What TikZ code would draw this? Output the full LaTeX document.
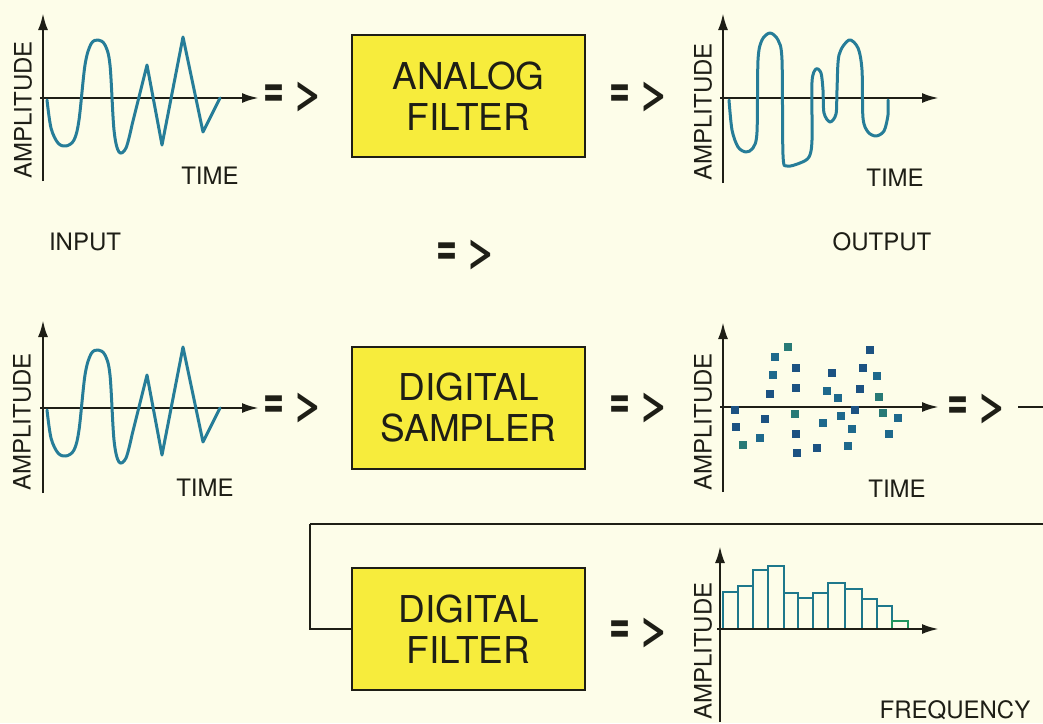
\documentclass[tikz,border=0pt]{standalone}
\usepackage{fontspec}
\usepackage{graphicx}
\setmainfont{TeX Gyre Heros}
\usetikzlibrary{arrows.meta}
\definecolor{bg}{RGB}{253,253,233}
\definecolor{boxy}{RGB}{247,236,60}
\definecolor{ink}{RGB}{30,30,22}
\definecolor{wave}{RGB}{38,125,152}
\definecolor{dotA}{RGB}{30,105,140}
\definecolor{dotB}{RGB}{28,82,130}
\definecolor{dotC}{RGB}{40,122,118}
\definecolor{barc}{RGB}{30,120,140}
\newcommand{\dblarrow}{{\fontsize{40}{40}\selectfont\bfseries\scalebox{0.9}[1.45]{=}\hspace{9pt}\scalebox{1.3}[1.05]{>}}}
\begin{document}
\begin{tikzpicture}[x=1pt,y=-1pt,
  axisline/.style={draw=ink, line width=2.6pt, -{Latex[length=17pt,width=10pt]}},
  wavel/.style={draw=wave, line width=3pt, line join=round, line cap=round},
  lbl/.style={text=ink, font=\fontsize{24}{24}\selectfont, inner sep=0pt},
  amp/.style={lbl, rotate=90},
  blockbox/.style={draw=ink, line width=2.5pt, fill=boxy, minimum width=233pt, minimum height=122pt, align=center, text=ink, font=\fontsize{37}{41}\selectfont, inner sep=0pt},
  flow/.style={text=ink, inner sep=0pt},
  sdot/.style={fill=#1, draw=none, minimum size=7.5pt, inner sep=0pt},
  bar/.style={draw=barc, line width=2pt}
]
\fill[bg] (0,0) rectangle (1043,723);
\useasboundingbox (0,0) rectangle (1043,723);

% ---------- top-left input graph ----------
\draw[axisline] (43,181) -- (43,13);
\draw[axisline] (40,98) -- (259,98);
\node[amp] (ampA) at (23,110) {AMPLITUDE};
\node[lbl] (timeA) at (210,176) {TIME};
\draw[wavel] plot[smooth, tension=0.55] coordinates {(47,100) (51,128) (58,143) (66,146) (74,140) (79,120) (85,65) (91,44) (98,40) (105,45) (110,65) (114,130) (119,152) (126,148) (132,125)} -- (147,65) -- (162,145) -- (183,37) -- (203,132) -- (220,98);

\node[flow] (f1) at (294,97) {\dblarrow};

% ---------- analog filter ----------
\node[blockbox] (analog) at (468.5,96) {ANALOG\\FILTER};
\node[flow] (f2) at (640,97) {\dblarrow};

% ---------- top-right output graph ----------
\draw[axisline] (723,183) -- (723,13);
\draw[axisline] (720,98) -- (939,98);
\node[amp] (ampB) at (703,112) {AMPLITUDE};
\node[lbl] (timeB) at (895,178) {TIME};
\draw[wavel] plot[smooth, tension=0.5] coordinates {(729,100) (732,130) (738,147) (746,152) (753,148) (757,132) (758,60) (762,40) (770,33) (778,40) (782,60) (783,155) (787,166) (800,163) (809,157) (812,140) (812,82) (816,69) (821,73) (823,90) (824,113) (830,122) (836,114) (837,90) (839,55) (849,40) (858,48) (862,70) (863,118) (868,132) (876,136) (884,131) (888,115) (888,100)};

% ---------- middle labels ----------
\node[lbl] (input) at (85,242) {INPUT};
\node[lbl] (output) at (882,242) {OUTPUT};
\node[flow] (f3) at (467,255) {\dblarrow};

% ---------- middle-left input graph ----------
\begin{scope}[shift={(0,310)}]
\draw[axisline] (43,183) -- (43,10);
\draw[axisline] (40,98) -- (259,98);
\node[amp] (ampC) at (22,112) {AMPLITUDE};
\node[lbl] (timeC) at (205,178) {TIME};
\draw[wavel] plot[smooth, tension=0.55] coordinates {(47,100) (51,128) (58,143) (66,146) (74,140) (79,120) (85,65) (91,44) (98,40) (105,45) (110,65) (114,130) (119,152) (126,148) (132,125)} -- (147,65) -- (162,145) -- (183,37) -- (203,132) -- (220,98);
\end{scope}
\node[flow] (f4) at (294,408) {\dblarrow};

% ---------- digital sampler ----------
\node[blockbox] (sampler) at (468.5,408) {DIGITAL\\SAMPLER};
\node[flow] (f5) at (640,408) {\dblarrow};

% ---------- middle-right sampled graph ----------
\draw[axisline] (723,492) -- (723,322);
\draw[axisline] (720,407) -- (939,407);
\node[amp] (ampD) at (703,422) {AMPLITUDE};
\node[lbl] (timeD) at (897,489) {TIME};
\foreach \px/\py/\c in {735/410/dotB, 736/427/dotB, 743/445/dotC, 760/438/dotA, 765/419/dotB,
  770/394/dotB, 773/375/dotA, 775/357/dotA, 788/347/dotC, 796/368/dotB, 796/388/dotB,
  795/414/dotC, 796/434/dotB, 797/453/dotB, 817/448/dotB, 823/423/dotA, 827/391/dotA,
  832/373/dotB, 838/398/dotA, 841/416/dotA, 848/446/dotA, 852/429/dotA, 855/410/dotB,
  860/389/dotB, 863/368/dotB, 870/350/dotB, 877/376/dotA, 879/397/dotC, 883/413/dotC,
  889/434/dotA, 898/418/dotA}
  \node[sdot=\c] at (\px,\py) {};
\node[flow] (f6) at (978,409) {\dblarrow};
\coordinate (tail) at (1018,407);
\coordinate (edge) at (1043,407);
\draw[draw=ink, line width=2.5pt] (tail) -- (edge);

% ---------- feedback line ----------
\coordinate (fbR) at (1043,524);
\coordinate (fbL) at (310,524);
\draw[draw=ink, line width=2.5pt] (fbR) -- (fbL);

% ---------- digital filter ----------
\node[blockbox] (dfilter) at (468.5,629) {DIGITAL\\FILTER};
\draw[draw=ink, line width=2.5pt] (fbL) |- (dfilter.west);
\node[flow] (f7) at (640,633) {\dblarrow};

% ---------- bottom-right spectrum ----------
\foreach \xa/\xb/\yt in {723/738/592, 738/753/586, 753/768/570, 768/784/566, 784/798/593,
  798/813/598, 813/828/593, 828/845/583, 845/862/589, 862/877/599, 877/892/606}
  \draw[bar] (\xa,629) rectangle (\xb,\yt);
\draw[draw=dotC!80!green, line width=2pt] (892,629) rectangle (908,621);
\draw[axisline] (720,722) -- (720,546);
\draw[axisline] (717,629) -- (939,629);
\node[amp] (ampE) at (703,651) {AMPLITUDE};
\node[lbl] (freq) at (955,710) {FREQUENCY};
\end{tikzpicture}
\end{document}
